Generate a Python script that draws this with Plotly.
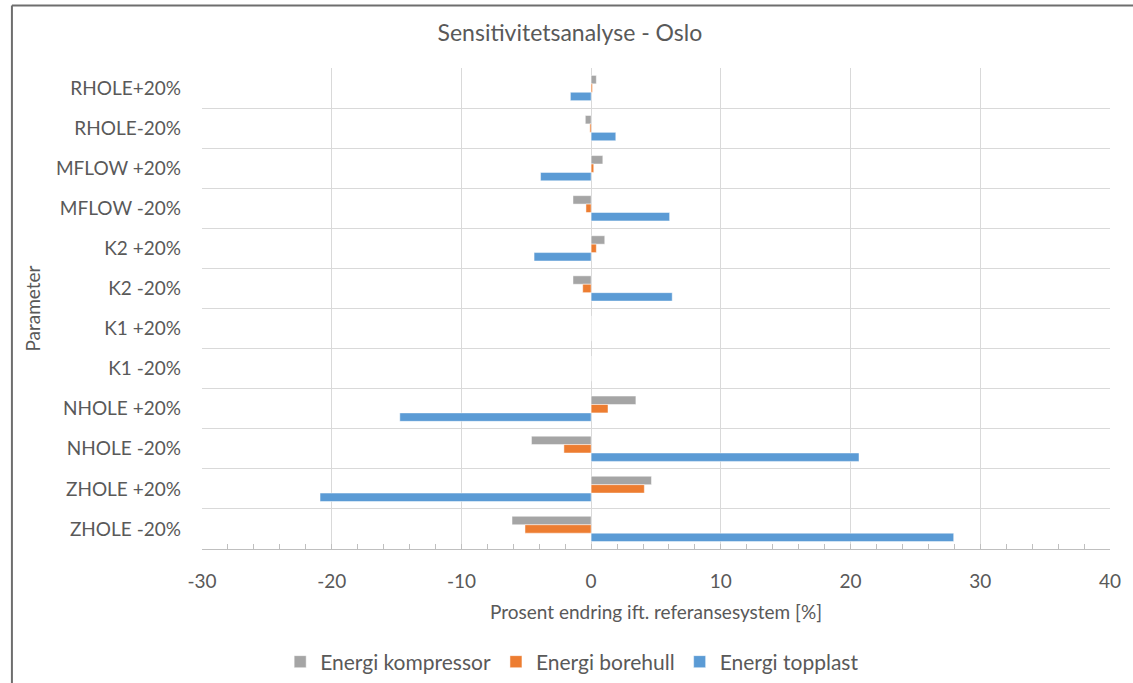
import plotly.graph_objects as go

categories = ["RHOLE+20%", "RHOLE-20%", "MFLOW +20%", "MFLOW -20%", "K2 +20%", "K2 -20%",
              "K1 +20%", "K1 -20%", "NHOLE +20%", "NHOLE -20%", "ZHOLE +20%", "ZHOLE -20%"]
kompressor = [0.4, -0.45, 0.9, -1.4, 1.05, -1.4, 0, 0, 3.45, -4.6, 4.65, -6.1]
borehull = [0.1, -0.1, 0.2, -0.4, 0.4, -0.65, 0, 0, 1.3, -2.1, 4.1, -5.1]
topplast = [-1.6, 1.9, -3.9, 6.05, -4.4, 6.25, 0, 0, -14.75, 20.65, -20.9, 27.95]
series_names = ["Energi kompressor", "Energi borehull", "Energi topplast"]
x_tickvals = [-30, -20, -10, 0, 10, 20, 30, 40]
x_ticktext = ["-30", "-20", "-10", "0", "10", "20", "30", "40"]
colors = ["#A5A5A5", "#ED7D31", "#5B9BD5"]

FONT = "Lato"
TXT = "#595959"
GRID = "#D9D9D9"

fig = go.Figure()
for name, vals, c in zip(series_names, [kompressor, borehull, topplast], colors):
    fig.add_trace(go.Bar(y=categories, x=vals, name=name, orientation="h",
                         marker=dict(color=c, line=dict(color="rgba(255,255,255,0.6)", width=0.8))))

fig.update_layout(
    width=1133, height=683,
    margin=dict(l=202, r=21, t=68, b=134),
    paper_bgcolor="white", plot_bgcolor="white",
    barmode="group", bargap=0.37, bargroupgap=0,
    font=dict(family=FONT, size=19, color=TXT),
    title=dict(text="Sensitivitetsanalyse - Oslo", x=0.503, xref="container", xanchor="center",
               y=1 - 33 / 683, yref="container", yanchor="middle",
               font=dict(family=FONT, size=23, color=TXT)),
    legend=dict(orientation="h", x=0.505, xref="container", xanchor="center",
                y=1 - 662 / 683, yref="container", yanchor="middle",
                font=dict(family=FONT, size=21, color=TXT), itemwidth=30),
    xaxis=dict(range=[-30, 40], tickvals=x_tickvals, ticktext=x_ticktext,
               showgrid=True, gridcolor=GRID, gridwidth=1,
               zeroline=True, zerolinecolor=GRID, zerolinewidth=1,
               showline=True, linecolor="#BFBFBF", linewidth=1,
               ticks="inside", ticklen=5, tickcolor="#BFBFBF",
               minor=dict(dtick=2, tick0=0, ticks="inside", ticklen=5, tickcolor="#BFBFBF", showgrid=False),
               ticklabelstandoff=15,
               title=dict(text="Prosent endring ift. referansesystem [%]", standoff=14,
                          font=dict(family=FONT, size=19, color=TXT))),
    yaxis=dict(type="category", autorange="reversed", tickson="boundaries", showgrid=True,
               gridcolor=GRID, gridwidth=1, ticks="", ticklabelstandoff=20,
               title=dict(text="Parameter", standoff=10, font=dict(family=FONT, size=19, color=TXT))),
    shapes=[
        dict(type="line", xref="paper", yref="paper", x0=(11.5 - 202) / 910, x1=1.1,
             y0=1 + (68 - 5.5) / 481, y1=1 + (68 - 5.5) / 481, line=dict(color="#6E6E6E", width=2)),
        dict(type="line", xref="paper", yref="paper", x0=(11.5 - 202) / 910, x1=(11.5 - 202) / 910,
             y0=1 + (68 - 5.5) / 481, y1=-0.5, line=dict(color="#6E6E6E", width=2)),
    ],
)

fig.write_html("out.html")
